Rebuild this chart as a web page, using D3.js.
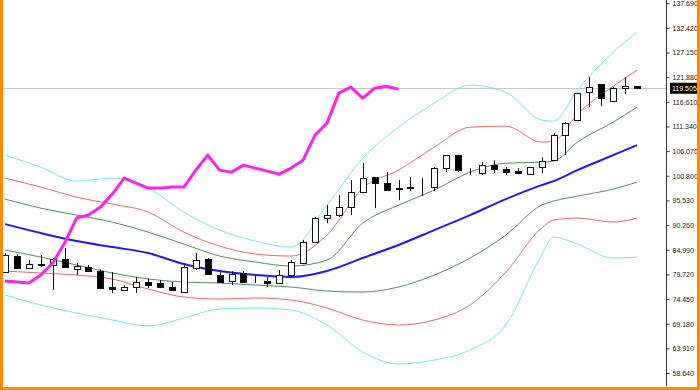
<!DOCTYPE html>
<html>
<head>
<meta charset="utf-8">
<script src="https://cdn.jsdelivr.net/npm/d3@7"></script>
<style>
  body { margin: 0; background: #fff; }
  .tick-label { font-family: "Liberation Sans", Arial, sans-serif; font-size: 7px; fill: #222; }
  .price-tag { font-family: "Liberation Sans", Arial, sans-serif; font-size: 7px; fill: #fff; }
</style>
</head>
<body>
<div id="chart"></div>
<script>
// candle data (one bar per index)
var opens = [80.22,83.64,81.08,81.93,81.72,83.00,80.86,81.29,80.43,77.02,76.38,77.02,78.08,77.87,77.02,75.95,81.08,83.00,79.58,78.30,80.00,78.08,78.30,77.87,79.58,82.14,86.63,91.76,92.40,94.10,97.31,100.51,99.23,98.16,98.38,98.16,98.38,102.44,105.21,101.58,101.37,103.08,102.22,101.79,101.15,102.65,104.14,109.48,112.69,118.67,120.38,116.75,119.52,119.95];
var highs = [84.28,84.07,82.78,83.85,83.21,85.35,82.14,81.72,80.86,80.22,77.44,79.15,78.94,78.51,78.08,81.72,84.28,83.21,80.22,80.43,80.43,79.37,79.15,80.65,82.78,87.06,91.97,94.53,96.67,99.87,103.50,100.51,101.58,99.87,100.51,100.30,102.65,105.21,105.30,102.44,103.72,104.14,102.65,102.44,102.65,104.78,109.91,112.26,118.46,121.87,120.38,119.74,121.87,120.00];
var lows = [80.01,80.86,80.86,81.29,76.38,81.10,79.58,80.22,76.59,75.74,76.16,75.74,76.80,76.80,76.16,75.74,80.65,79.58,77.87,77.44,77.87,77.87,77.02,77.66,78.94,81.90,86.42,90.69,91.97,92.40,97.31,93.89,97.74,95.60,97.52,96.45,97.52,101.58,101.58,100.94,100.94,101.37,100.94,101.37,101.15,101.37,104.14,105.21,112.69,115.46,115.68,116.75,118.24,119.50];
var closes = [83.85,81.08,81.93,81.82,83.00,81.29,81.50,80.43,76.80,76.59,77.02,78.08,77.44,77.02,76.38,81.29,82.78,79.79,78.08,79.79,78.08,77.98,77.87,79.58,82.36,86.63,91.76,92.40,94.10,97.31,100.30,99.23,97.74,98.05,98.27,98.10,102.44,105.21,102.00,101.50,103.08,102.22,101.58,101.37,102.65,103.93,109.48,112.05,118.46,119.74,117.39,119.52,119.95,119.505];

// band lines, read at these bars
var bandIdx = [0,3,6,9,12,15,18,21,24,27,30,33,36,39,42,45,46,48,51,53];
var midLine = [90.47,88.55,86.84,85.56,84.28,81.93,80.43,79.58,79.15,80.43,83.21,85.99,89.19,92.40,95.81,98.80,99.66,102.01,105.21,107.35];
var upGreen = [95.81,93.89,92.40,90.90,88.76,86.20,83.64,82.36,81.50,82.78,90.69,94.53,97.74,101.58,103.50,103.72,103.93,107.99,112.26,115.46];
var upRed = [100.30,98.38,96.24,94.75,93.04,88.76,85.77,84.07,83.64,88.12,98.16,102.01,106.92,111.19,111.41,107.99,108.20,113.97,119.95,123.37];
var upCyan = [105.21,102.65,99.66,100.30,98.16,93.04,89.19,86.84,85.56,94.53,104.57,111.19,116.32,120.16,118.67,112.69,112.47,119.10,127.21,131.48];
var lowGreen = [84.92,83.42,81.72,80.01,78.73,78.08,77.87,77.44,77.02,76.16,75.95,77.02,79.58,83.21,88.12,94.53,95.39,96.45,97.95,99.44];
var lowRed = [80.43,80.01,79.58,78.73,76.59,74.88,74.45,74.67,74.24,72.53,69.97,68.90,69.97,73.17,80.22,89.62,91.33,91.76,90.90,91.76];
var lowCyan = [75.31,73.17,71.46,69.97,68.69,70.40,72.32,72.53,72.10,68.90,63.13,60.57,61.42,63.56,68.90,83.85,87.70,86.20,83.21,83.42];

// magenta indicator, one value per bar from the first
var pinkLine = [78.30,78.08,77.87,79.58,82.14,86.42,91.76,92.40,94.10,96.88,100.30,99.23,98.16,98.16,98.38,98.38,102.01,105.21,102.01,101.58,103.08,102.44,101.79,101.15,102.44,104.14,109.48,112.05,118.46,119.74,117.39,119.52,119.95,119.31];

var tickLabels = ["137.690","132.420","127.150","121.880","116.610","111.340","106.070","100.800","95.530","90.260","84.990","79.720","74.450","69.180","63.910","58.640"];
var lastPrice = 119.505;

function renderChart(){
    let total_width = 700;
    let total_height = 390;
    let plot_right = 666;
    let plot_bottom = 386;

    var svg = d3.select("#chart").append("svg")
        .attr("width", total_width)
        .attr("height", total_height);

    svg.append("rect").attr("width", total_width).attr("height", total_height).attr("fill", "#fff");

    var x = d3.scaleLinear().domain([0, opens.length - 1]).range([5, 637]);
    var y = d3.scaleLinear().domain([58.64, 137.69]).range([373, 3.2]);

    svg.append("clipPath").attr("id", "plotclip")
      .append("rect").attr("x", 3).attr("y", 0).attr("width", plot_right - 3).attr("height", plot_bottom);

    var plot = svg.append("g").attr("clip-path", "url(#plotclip)");

    // current price line
    plot.append("line")
      .attr("x1", 3).attr("x2", plot_right)
      .attr("y1", Math.round(y(lastPrice)) + 0.5).attr("y2", Math.round(y(lastPrice)) + 0.5)
      .attr("stroke", "#c8c8c8").attr("stroke-width", 1);

    var bandLine = d3.line()
      .x((d, i) => x(bandIdx[i]))
      .y(d => y(d))
      .curve(d3.curveMonotoneX);

    let bands = [
      [upCyan, "#6fe6ea", 1], [lowCyan, "#6fe6ea", 1],
      [upRed, "#e26a66", 1], [lowRed, "#e26a66", 1],
      [upGreen, "#4f8f55", 1], [lowGreen, "#4f8f55", 1],
      [midLine, "#1b1bf0", 2]
    ];
    bands.forEach(b => {
      plot.append("path")
        .attr("d", bandLine(b[0]))
        .attr("fill", "none")
        .attr("stroke", b[1])
        .attr("stroke-width", b[2]);
    });

    // candles
    let bodyW = 7;
    let candles = plot.append("g").selectAll("g")
      .data(opens.map((o, i) => ({o: o, h: highs[i], l: lows[i], c: closes[i], i: i})))
      .enter().append("g");

    candles.append("line")
      .attr("x1", d => Math.round(x(d.i)) + 0.5)
      .attr("x2", d => Math.round(x(d.i)) + 0.5)
      .attr("y1", d => y(d.h))
      .attr("y2", d => y(d.l))
      .attr("stroke", "#111").attr("stroke-width", 1);

    candles.append("rect")
      .attr("x", d => Math.round(x(d.i)) - 3 + 0.5)
      .attr("y", d => Math.round(y(Math.max(d.o, d.c))) + 0.5)
      .attr("width", bodyW - 1)
      .attr("height", d => Math.max(0, Math.round(Math.abs(y(d.o) - y(d.c)))))
      .attr("fill", d => d.c >= d.o ? "#fff" : "#000")
      .attr("stroke", "#111").attr("stroke-width", 1);

    // magenta line
    plot.append("path")
      .attr("d", d3.line().x((d, i) => x(i)).y(d => y(d))(pinkLine))
      .attr("fill", "none")
      .attr("stroke", "#ff1ff0")
      .attr("stroke-width", 3)
      .attr("stroke-linejoin", "round");

    // right price axis
    let tickVals = tickLabels.map(t => +t);
    svg.append("g")
      .attr("transform", "translate(" + (plot_right + 0.5) + ",0)")
      .call(d3.axisRight(y).tickValues(tickVals).tickSize(3).tickFormat(d3.format(".3f")))
      .call(g => g.select(".domain").attr("d", "M0,0V" + plot_bottom).attr("stroke", "#333"))
      .call(g => g.selectAll(".tick line").attr("stroke", "#333"))
      .call(g => g.selectAll(".tick text").attr("class", "tick-label").attr("x", 6).attr("dy", "0.35em"));

    // last price tag
    let py = y(lastPrice);
    svg.append("rect")
      .attr("x", plot_right + 4).attr("y", py - 5.5)
      .attr("width", 29).attr("height", 11)
      .attr("fill", "#000");
    svg.append("text")
      .attr("class", "price-tag")
      .attr("x", plot_right + 6).attr("y", py)
      .attr("dy", "0.35em")
      .text(lastPrice.toFixed(3));

    // orange frame
    svg.append("rect").attr("x", 0).attr("y", 0).attr("width", 3).attr("height", total_height).attr("fill", "#ff8a00");
    svg.append("rect").attr("x", total_width - 3).attr("y", 0).attr("width", 3).attr("height", total_height).attr("fill", "#ff8a00");
    svg.append("rect").attr("x", 0).attr("y", total_height - 3).attr("width", total_width).attr("height", 3).attr("fill", "#ff8a00");
}

renderChart();
</script>
</body>
</html>
